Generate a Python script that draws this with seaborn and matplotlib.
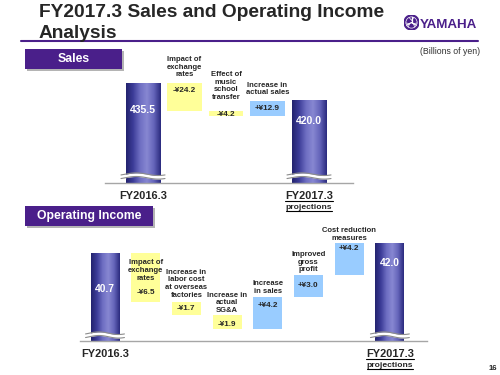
import numpy as np
import pandas as pd
import matplotlib
matplotlib.use("Agg")
import matplotlib.pyplot as plt
import seaborn as sns
from matplotlib.colors import LinearSegmentedColormap
from matplotlib.patches import Rectangle, Circle
from matplotlib.lines import Line2D

# ---------------- data ----------------
period_labels = ["FY2016.3", "FY2017.3"]
period_note = "projections"

sales_totals = [435.5, 420.0]
sales_total_texts = ["435.5", "420.0"]
sales_steps = [-24.2, -4.2, 12.9]
sales_step_texts = ["-¥24.2", "-¥4.2", "+¥12.9"]
sales_step_labels = ["Impact of\nexchange\nrates",
                     "Effect of\nmusic\nschool\ntransfer",
                     "Increase in\nactual sales"]

oi_totals = [40.7, 42.0]
oi_total_texts = ["40.7", "42.0"]
oi_steps = [-6.5, -1.7, -1.9, 4.2, 3.0, 4.2]
oi_step_texts = ["-¥6.5", "-¥1.7", "-¥1.9", "+¥4.2", "+¥3.0", "+¥4.2"]
oi_step_labels = ["Impact of\nexchange\nrates",
                  "Increase in\nlabor cost\nat overseas\nfactories",
                  "Increase in\nactual\nSG&A",
                  "Increase\nin sales",
                  "Improved\ngross\nprofit",
                  "Cost reduction\nmeasures"]

title_lines = ["FY2017.3 Sales and Operating Income", "Analysis"]
unit_text = "(Billions of yen)"
section_titles = ["Sales", "Operating Income"]
page_number = "16"

# ---------------- style ----------------
W, H = 500, 375
sns.set_style("white")
plt.rcParams['font.family'] = ['Liberation Sans', 'DejaVu Sans']

PURPLE = "#4A1F8A"
YELLOW = "#FFFF99"
BLUE = "#99CCFF"
BASE = "#A6A6A6"
bar_cmap = LinearSegmentedColormap.from_list(
    "cyl", ["#23236E", "#3C3C98", "#6E6EC2", "#8787D2", "#6565BA", "#2A2A7E"])

fig = plt.figure(figsize=(W / 100, H / 100), dpi=100)
fig.patch.set_facecolor("white")


def fx(x):
    return x / W


def fy(y):
    return 1 - y / H


PT = 0.72  # points per pixel at 100 dpi


def draw_panel(box, c0, sp, scale, anchor_px, totals, total_texts, steps,
               step_texts, step_labels, wbar, val_off, lab_gap, tot_off,
               sq_off, lab_fs, val_fs, tot_fs):
    l, t, r, b = box
    ax = fig.add_axes([fx(l), fy(b), (r - l) / W, (b - t) / H])
    ylim0 = totals[0] - (b - anchor_px) / scale
    ylim1 = totals[0] + (anchor_px - t) / scale
    xlim0 = (l - c0) / sp
    xlim1 = (r - c0) / sp
    n = len(steps)
    cats = [period_labels[0]] + [f"s{i}" for i in range(n)] + [period_labels[1]]
    df = pd.DataFrame({"period": period_labels, "value": totals})
    sns.barplot(data=df, x="period", y="value", order=cats, width=wbar,
                color="#3C3C98", saturation=1, errorbar=None, ax=ax,
                edgecolor="none", zorder=2)
    total_patches = list(ax.patches)
    grad = np.linspace(0, 1, 128)[None, :]
    for p in total_patches:
        x0 = p.get_x()
        x1 = x0 + p.get_width()
        y1 = p.get_y() + p.get_height()
        ax.imshow(grad, cmap=bar_cmap, extent=(x0, x1, ylim0, y1),
                  aspect="auto", zorder=2.5, interpolation="bilinear")
    # floating steps
    levels = np.concatenate([[totals[0]], totals[0] + np.cumsum(steps)])
    tops = []
    for i, s in enumerate(steps):
        lo = min(levels[i], levels[i + 1])
        ax.bar(i + 1, abs(s), bottom=lo, width=wbar,
               color=YELLOW if s < 0 else BLUE, zorder=2, edgecolor="none")
        tops.append(lo + abs(s))
    # step texts
    for i in range(n):
        ax.annotate(step_labels[i], xy=(i + 1, tops[i]),
                    xytext=(0, -(val_off[i] - lab_gap[i] + 3.5) * PT),
                    textcoords="offset points", ha="center", va="bottom",
                    fontsize=lab_fs, fontweight="bold", linespacing=1.13,
                    annotation_clip=False, zorder=5)
        ax.annotate(step_texts[i], xy=(i + 1, tops[i]),
                    xytext=(0, -(val_off[i] + 0.5) * PT),
                    textcoords="offset points", ha="center", va="center",
                    fontsize=val_fs, fontweight="bold",
                    annotation_clip=False, zorder=5)
    # totals text + break marks
    for k, p in enumerate(total_patches):
        xc = p.get_x() + p.get_width() / 2
        ax.annotate(total_texts[k], xy=(xc, totals[k]),
                    xytext=(0, -(tot_off[k] + 0.5) * PT),
                    textcoords="offset points", ha="center", va="center",
                    fontsize=tot_fs, fontweight="bold", color="white",
                    annotation_clip=False, zorder=5)
        half = p.get_width() / 2 + 5 / sp
        xs = np.linspace(xc - half, xc + half, 60)
        tt = np.linspace(0, 1, 60)
        yc = ylim0 + sq_off / scale
        wave = 1.3 * np.sin(2 * np.pi * tt - 0.6) / scale
        y_top = yc + 1.8 / scale + wave
        y_bot = yc - 1.8 / scale + wave
        ax.fill_between(xs, y_bot, y_top, color="white", zorder=3, lw=0)
        ax.plot(xs, y_top, color="#8C8C8C", lw=0.8, zorder=3.1)
        ax.plot(xs, y_bot, color="#8C8C8C", lw=0.8, zorder=3.1)
    # period labels
    under = []
    for k, idx in enumerate([0, n + 1]):
        tx = ax.annotate(period_labels[k], xy=(idx, ylim0), xytext=(0, -16 * PT),
                         textcoords="offset points", ha="center", va="baseline",
                         fontsize=7.9, fontweight="bold", annotation_clip=False)
        if k == 1:
            under.append((ax, tx, (idx, ylim0), 16))
    tn = ax.annotate(period_note, xy=(n + 1, ylim0), xytext=(0, -26 * PT),
                     textcoords="offset points", ha="center", va="baseline",
                     fontsize=6.1, fontweight="bold", annotation_clip=False)
    under.append((ax, tn, (n + 1, ylim0), 26))
    ax.set_xlim(xlim0, xlim1)
    ax.set_ylim(ylim0, ylim1)
    ax.set_xticks([])
    ax.set_yticks([])
    ax.set_xlabel("")
    ax.set_ylabel("")
    for side in ["left", "top", "right"]:
        ax.spines[side].set_visible(False)
    ax.spines["bottom"].set_color(BASE)
    ax.spines["bottom"].set_linewidth(1.0)
    ax.patch.set_alpha(0)
    return under


underlined = []
underlined += draw_panel((105, 45, 353, 183), 143, 41.5, 1.16, 83,
                         sales_totals, sales_total_texts, sales_steps,
                         sales_step_texts, sales_step_labels, 0.82,
                         val_off=[7, 2.5, 7], lab_gap=[15, 16, 15],
                         tot_off=[27, 20], sq_off=7,
                         lab_fs=5.5, val_fs=5.9, tot_fs=7.5)
underlined += draw_panel((80, 205, 427, 341), 105, 40.7, 7.5, 253,
                         oi_totals, oi_total_texts, oi_steps,
                         oi_step_texts, oi_step_labels, 0.71,
                         val_off=[39, 6.5, 10, 8, 10, 5],
                         lab_gap=[14, 13, 14, 14, 15, 10], tot_off=[35, 19],
                         sq_off=6, lab_fs=5.5, val_fs=5.9, tot_fs=7.4)

# ---------------- page decorations ----------------
fig.text(fx(39), fy(17), title_lines[0], fontsize=13.8, fontweight="bold",
         va="baseline", ha="left")
fig.text(fx(39), fy(37.5), title_lines[1], fontsize=13.8, fontweight="bold",
         va="baseline", ha="left")
fig.add_artist(Line2D([fx(21), fx(478)], [fy(40.5), fy(40.5)],
                      color=PURPLE, lw=1.5, transform=fig.transFigure))
fig.text(fx(480), fy(51), unit_text, fontsize=6.3, color="#333333",
         ha="right", va="center")


def section(l, t, r, b, label):
    fig.add_artist(Rectangle((fx(l + 2), fy(b + 2)), (r - l) / W, (b - t) / H,
                             transform=fig.transFigure, facecolor="#B4B4B4",
                             edgecolor="none"))
    fig.add_artist(Rectangle((fx(l), fy(b)), (r - l) / W, (b - t) / H,
                             transform=fig.transFigure, facecolor=PURPLE,
                             edgecolor="none"))
    fig.text(fx((l + r) / 2), fy((t + b) / 2 + 0.5), label, color="white",
             fontsize=8.8, fontweight="bold", ha="center", va="center")


section(25, 49, 122, 69, section_titles[0])
section(25, 206, 153, 226, section_titles[1])

fig.text(fx(493), fy(368), page_number, fontsize=5.6, fontweight="bold",
         ha="center", va="center")

# logo
lax = fig.add_axes([fx(404), fy(30), 15 / W, 15 / H])
lax.set_xlim(-1, 1)
lax.set_ylim(-1, 1)
lax.set_aspect("equal")
lax.axis("off")
lax.add_patch(Circle((0, 0), 1, color=PURPLE))
lax.add_patch(Circle((0, 0), 0.75, facecolor="none", edgecolor="white", lw=0.5))
for ang in [90, 210, 330]:
    a = np.deg2rad(ang)
    lax.plot([0, 0.72 * np.cos(a)], [0, 0.72 * np.sin(a)], color="white", lw=0.9)
    for off in [-25, 25]:
        b2 = np.deg2rad(ang + off)
        lax.plot([0.3 * np.cos(a), 0.72 * np.cos(b2)],
                 [0.3 * np.sin(a), 0.72 * np.sin(b2)], color="white", lw=0.5)
fig.text(fx(420), fy(27.7), "YAMAHA", fontsize=9.6, fontweight="bold",
         color=PURPLE, ha="left", va="baseline")

# underline projected labels
fig.canvas.draw()
renderer = fig.canvas.get_renderer()
for ax_, tx, xy, off_px in underlined:
    bb = tx.get_window_extent(renderer)
    base_y = ax_.transData.transform(xy)[1] - off_px
    yline = base_y - 1.8
    fig.add_artist(Line2D([bb.x0 / W, bb.x1 / W], [yline / H, yline / H],
                          color="black", lw=0.8, transform=fig.transFigure))

fig.savefig("out.png", dpi=100, facecolor="white")
